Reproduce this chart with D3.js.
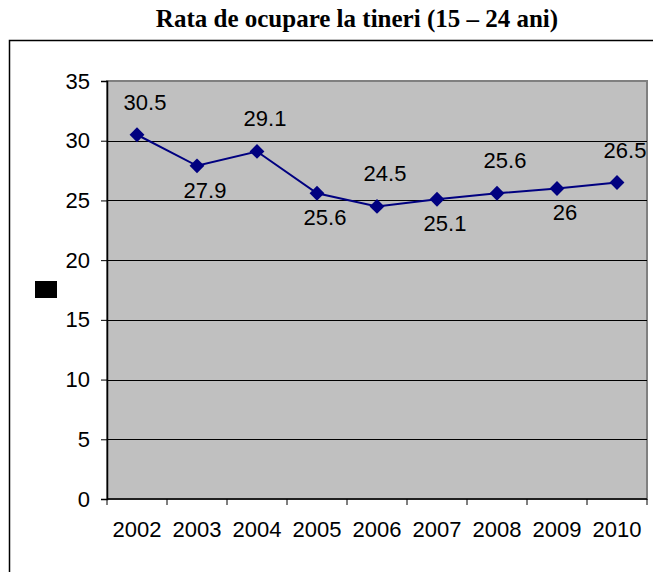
<!DOCTYPE html>
<html>
<head>
<meta charset="utf-8">
<script src="https://cdn.jsdelivr.net/npm/d3@7/dist/d3.min.js"></script>
<style>
html,body{margin:0;padding:0;background:#fff;}
svg{display:block;}
</style>
</head>
<body>
<svg id="chart" width="653" height="572"></svg>
<script>
const title = "Rata de ocupare la tineri (15 – 24 ani)";
const years = ["2002","2003","2004","2005","2006","2007","2008","2009","2010"];
const values = [30.5, 27.9, 29.1, 25.6, 24.5, 25.1, 25.6, 26, 26.5];
const yTicks = [0, 5, 10, 15, 20, 25, 30, 35];

const svg = d3.select("#chart");
const W = 653, H = 572;
const plot = {left: 107, right: 647, top: 81, bottom: 499};

// outer chart border
svg.append("rect")
  .attr("x", 9.5).attr("y", 40.5)
  .attr("width", W + 20).attr("height", H + 20)
  .attr("fill", "#fff").attr("stroke", "#000").attr("stroke-width", 1.5);

// title
svg.append("text")
  .attr("x", 357).attr("y", 27)
  .attr("text-anchor", "middle")
  .attr("font-family", "'Liberation Serif', 'Times New Roman', serif")
  .attr("font-weight", "bold")
  .attr("font-size", 25)
  .text(title);

const x = d3.scaleBand().domain(years).range([plot.left, plot.right]).padding(0);
const y = d3.scaleLinear().domain([0, 35]).range([plot.bottom, plot.top]);

// plot area
svg.append("rect")
  .attr("x", plot.left).attr("y", plot.top)
  .attr("width", plot.right - plot.left).attr("height", plot.bottom - plot.top)
  .attr("fill", "#C0C0C0").attr("stroke", "#808080").attr("stroke-width", 2);

// gridlines
svg.append("g").selectAll("line")
  .data(yTicks.filter(t => t > 0 && t < 35))
  .join("line")
  .attr("x1", plot.left).attr("x2", plot.right)
  .attr("y1", d => Math.round(y(d)) + 0.5).attr("y2", d => Math.round(y(d)) + 0.5)
  .attr("stroke", "#000").attr("stroke-width", 1);

const fontSans = "'Liberation Sans', Arial, sans-serif";
const fs = 22;

// y axis
const yAxis = svg.append("g")
  .attr("transform", `translate(${plot.left},0)`)
  .call(d3.axisLeft(y).tickValues(yTicks).tickSize(6).tickPadding(11).tickFormat(d3.format("d")));
yAxis.selectAll("text").attr("font-family", fontSans).attr("font-size", fs).attr("fill", "#000");
yAxis.selectAll("line").attr("stroke", "#000");
yAxis.select(".domain").attr("stroke", "#000").attr("stroke-width", 1.5);

// x axis
const tickPos = years.map(d => x(d)).concat([plot.right]);
const xAxis = svg.append("g").attr("transform", `translate(0,${plot.bottom})`);
xAxis.append("line")
  .attr("x1", plot.left).attr("x2", plot.right)
  .attr("stroke", "#000").attr("stroke-width", 1.5);
xAxis.selectAll("line.tk").data(tickPos).join("line").attr("class","tk")
  .attr("x1", d => d).attr("x2", d => d).attr("y1", 0).attr("y2", 6)
  .attr("stroke", "#000");
xAxis.selectAll("text").data(years).join("text")
  .attr("x", d => x(d) + x.bandwidth() / 2)
  .attr("y", 38)
  .attr("text-anchor", "middle")
  .attr("font-family", fontSans).attr("font-size", fs)
  .text(d => d);

// line
const cx = d => x(d) + x.bandwidth() / 2;
const pts = years.map((d, i) => [cx(d), y(values[i])]);
svg.append("path")
  .attr("d", d3.line()(pts))
  .attr("fill", "none").attr("stroke", "#000080").attr("stroke-width", 2);

// markers
svg.append("g").selectAll("path")
  .data(pts)
  .join("path")
  .attr("transform", d => `translate(${d[0]},${d[1]})`)
  .attr("d", d3.symbol().type(d3.symbolDiamond2).size(140))
  .attr("fill", "#000080");

// data labels, alternating above/below
svg.append("g").selectAll("text")
  .data(pts)
  .join("text")
  .attr("x", d => d[0] + 8)
  .attr("y", (d, i) => i % 2 === 0 ? d[1] - 25 : d[1] + 32)
  .attr("text-anchor", "middle")
  .attr("font-family", fontSans).attr("font-size", fs)
  .text((d, i) => values[i]);

// legend key
svg.append("rect")
  .attr("x", 35).attr("y", 281).attr("width", 22).attr("height", 17)
  .attr("fill", "#000");
</script>
</body>
</html>
